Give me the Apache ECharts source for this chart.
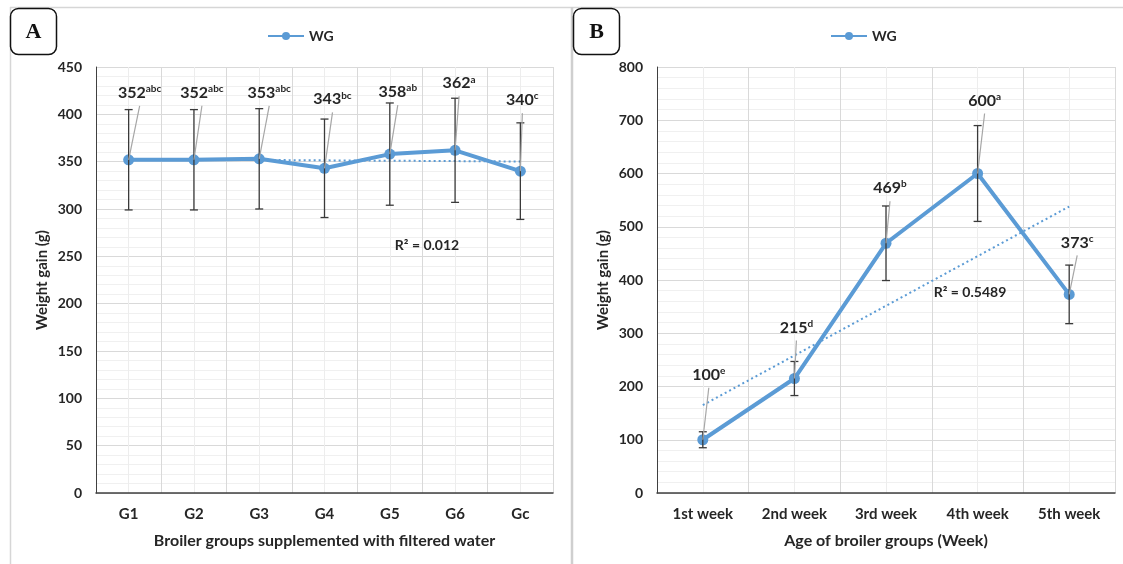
<!DOCTYPE html>
<html>
<head>
<meta charset="utf-8">
<script src="https://cdn.jsdelivr.net/npm/echarts@6/dist/echarts.min.js"></script>
<style>
  html,body{margin:0;padding:0;background:#fff;}
  #chart{width:1123px;height:564px;}
</style>
</head>
<body>
<div id="chart"></div>
<script>
// panel A: groups
const groupsA = ['G1', 'G2', 'G3', 'G4', 'G5', 'G6', 'Gc']
const wgA = [352, 352, 353, 343, 358, 362, 340]
const errA = [53, 53, 53, 52, 54, 55, 51]
const letterA = ['abc', 'abc', 'abc', 'bc', 'ab', 'a', 'c']
const trendA = [352.6, 350.2]
const r2A = 'R² = 0.012'

// panel B: weeks
const weeksB = ['1st week', '2nd week', '3rd week', '4th week', '5th week']
const wgB = [100, 215, 469, 600, 373]
const errB = [15, 32, 70, 90, 55]
const letterB = ['e', 'd', 'b', 'a', 'c']
const trendB = [165, 538]
const r2B = 'R² = 0.5489'

// label offsets (px) from each point, like the hand-placed excel labels
const offA = [[11, -67], [8, -67], [10, -66], [8, -69], [8, -62], [4, -67], [2, -71]]
const offB = [[6, -65], [2, -51], [4, -55], [7, -73], [8, -52]]

const FONT = 'Lato, "Liberation Sans", sans-serif'
const BLUE = '#5b9bd5'

const chart = echarts.init(document.getElementById('chart'))

function errRender(values, errs, letters, offs) {
  return function (params, api) {
    const i = params.dataIndex
    const v = values[i], e = errs[i]
    const p = api.coord([i, v])
    const hi = api.coord([i, v + e])
    const lo = api.coord([i, v - e])
    const cap = 4
    const ox = offs[i][0], oy = offs[i][1]
    const bar = { stroke: '#3a3a3a', lineWidth: 1.3 }
    return {
      type: 'group',
      children: [
        { type: 'line', shape: { x1: p[0], y1: hi[1], x2: p[0], y2: lo[1] }, style: bar },
        { type: 'line', shape: { x1: p[0] - cap, y1: hi[1], x2: p[0] + cap, y2: hi[1] }, style: bar },
        { type: 'line', shape: { x1: p[0] - cap, y1: lo[1], x2: p[0] + cap, y2: lo[1] }, style: bar },
        { type: 'line', shape: { x1: p[0], y1: p[1], x2: p[0] + ox, y2: p[1] + oy + 13 },
          style: { stroke: '#a6a6a6', lineWidth: 1.2 } },
        {
          type: 'text', x: p[0] + ox, y: p[1] + oy,
          style: {
            text: '{v|' + v + '}{s|' + letters[i] + '}',
            align: 'center', verticalAlign: 'middle',
            rich: {
              v: { fontFamily: FONT, fontWeight: 'bold', fontSize: 16, fill: '#262626', lineHeight: 18 },
              s: { fontFamily: FONT, fontWeight: 'bold', fontSize: 10, fill: '#262626', lineHeight: 18, padding: [0, 0, 8, 0] }
            }
          }
        }
      ]
    }
  }
}

function yAxisOf(gridIndex, max, interval) {
  return {
    type: 'value', gridIndex: gridIndex, min: 0, max: max, interval: interval,
    name: 'Weight gain (g)', nameLocation: 'middle', nameGap: 46,
    nameTextStyle: { fontFamily: FONT, fontWeight: 'bold', fontSize: 15, color: '#262626' },
    axisLine: { show: true, lineStyle: { color: '#404040', width: 1 } },
    axisTick: { show: false },
    axisLabel: { fontFamily: FONT, fontWeight: 'bold', fontSize: 14, color: '#262626', margin: 14 },
    splitLine: { lineStyle: { color: '#d9d9d9' } },
    minorTick: { show: false, splitNumber: 5 },
    minorSplitLine: { show: true, lineStyle: { color: '#f0f0f0' } }
  }
}

function xAxisOf(gridIndex, cats, name) {
  return {
    type: 'category', gridIndex: gridIndex, data: cats,
    name: name, nameLocation: 'middle', nameGap: 40,
    nameTextStyle: { fontFamily: FONT, fontWeight: 'bold', fontSize: 16, color: '#262626' },
    axisLine: { lineStyle: { color: '#404040', width: 1.5 } },
    axisTick: { show: false },
    axisLabel: { fontFamily: FONT, fontWeight: 'bold', fontSize: 15, color: '#262626', margin: 14 },
    splitLine: { show: false }
  }
}

// hidden axis only for the vertical gridlines (boundaries + category centres)
function gridXAxis(gridIndex, n) {
  return {
    type: 'value', gridIndex: gridIndex, min: 0, max: n * 2, interval: 1,
    axisLine: { show: false }, axisTick: { show: false }, axisLabel: { show: false },
    splitLine: { show: true, lineStyle: { color: ['#d9d9d9', '#ededed'] } }
  }
}

const textStyle = { fontFamily: FONT, fontWeight: 'bold', fontSize: 14, color: '#262626' }

chart.setOption({
  animation: false,
  graphic: [
    { type: 'line', shape: { x1: 10, y1: 7.5, x2: 1123, y2: 7.5 }, style: { stroke: '#d6d6d6', lineWidth: 1.5 } },
    { type: 'line', shape: { x1: 10.5, y1: 7, x2: 10.5, y2: 564 }, style: { stroke: '#d6d6d6', lineWidth: 1.5 } },
    { type: 'line', shape: { x1: 572, y1: 7, x2: 572, y2: 564 }, style: { stroke: '#cfcfcf', lineWidth: 2.5 } },
    { type: 'rect', shape: { x: 10.5, y: 8.5, width: 46, height: 46, r: 8 }, style: { fill: '#fff', stroke: '#111', lineWidth: 1.5 } },
    { type: 'text', x: 33.5, y: 32, style: { text: 'A', align: 'center', verticalAlign: 'middle',
      font: 'bold 22px "Liberation Serif", "DejaVu Serif", serif', fill: '#111' } },
    { type: 'rect', shape: { x: 573.5, y: 8.5, width: 46, height: 46, r: 8 }, style: { fill: '#fff', stroke: '#111', lineWidth: 1.5 } },
    { type: 'text', x: 596.5, y: 32, style: { text: 'B', align: 'center', verticalAlign: 'middle',
      font: 'bold 22px "Liberation Serif", "DejaVu Serif", serif', fill: '#111' } },
    { type: 'text', x: 427, y: 245, z: 100, style: { text: r2A, align: 'center', verticalAlign: 'middle',
      font: 'bold 14px ' + FONT, fill: '#262626' } },
    { type: 'text', x: 970, y: 292, z: 100, style: { text: r2B, align: 'center', verticalAlign: 'middle',
      font: 'bold 14px ' + FONT, fill: '#262626' } }
  ],
  legend: [
    { data: ['WG'], left: 262, top: 24, itemWidth: 36, itemHeight: 10, itemGap: 4, textStyle: textStyle },
    { data: ['WG'], left: 825, top: 24, itemWidth: 36, itemHeight: 10, itemGap: 4, textStyle: textStyle }
  ],
  grid: [
    { left: 96, right: 570, top: 67, bottom: 71 },
    { left: 657, right: 8, top: 67, bottom: 71 }
  ],
  xAxis: [
    xAxisOf(0, groupsA, 'Broiler groups supplemented with filtered water'),
    xAxisOf(1, weeksB, 'Age of broiler groups (Week)'),
    gridXAxis(0, groupsA.length),
    gridXAxis(1, weeksB.length)
  ],
  yAxis: [yAxisOf(0, 450, 50), yAxisOf(1, 800, 100)],
  series: [
    {
      name: 'trendA', type: 'line', xAxisIndex: 0, yAxisIndex: 0, z: 2,
      data: [[0, trendA[0]], [groupsA.length - 1, trendA[1]]],
      symbol: 'none', lineStyle: { color: BLUE, width: 2, type: [2, 3] }
    },
    {
      name: 'WG', type: 'line', xAxisIndex: 0, yAxisIndex: 0, z: 3,
      data: wgA, symbol: 'circle', symbolSize: 11,
      itemStyle: { color: BLUE }, lineStyle: { color: BLUE, width: 4 }
    },
    {
      name: 'errA', type: 'custom', xAxisIndex: 0, yAxisIndex: 0, z: 4,
      data: wgA.map((v, i) => [i, v]),
      renderItem: errRender(wgA, errA, letterA, offA)
    },
    {
      name: 'trendB', type: 'line', xAxisIndex: 1, yAxisIndex: 1, z: 2,
      data: [[0, trendB[0]], [weeksB.length - 1, trendB[1]]],
      symbol: 'none', lineStyle: { color: BLUE, width: 2, type: [2, 3] }
    },
    {
      name: 'WG', type: 'line', xAxisIndex: 1, yAxisIndex: 1, z: 3,
      data: wgB, symbol: 'circle', symbolSize: 11,
      itemStyle: { color: BLUE }, lineStyle: { color: BLUE, width: 4 }
    },
    {
      name: 'errB', type: 'custom', xAxisIndex: 1, yAxisIndex: 1, z: 4,
      data: wgB.map((v, i) => [i, v]),
      renderItem: errRender(wgB, errB, letterB, offB)
    }
  ]
})
</script>
</body>
</html>
